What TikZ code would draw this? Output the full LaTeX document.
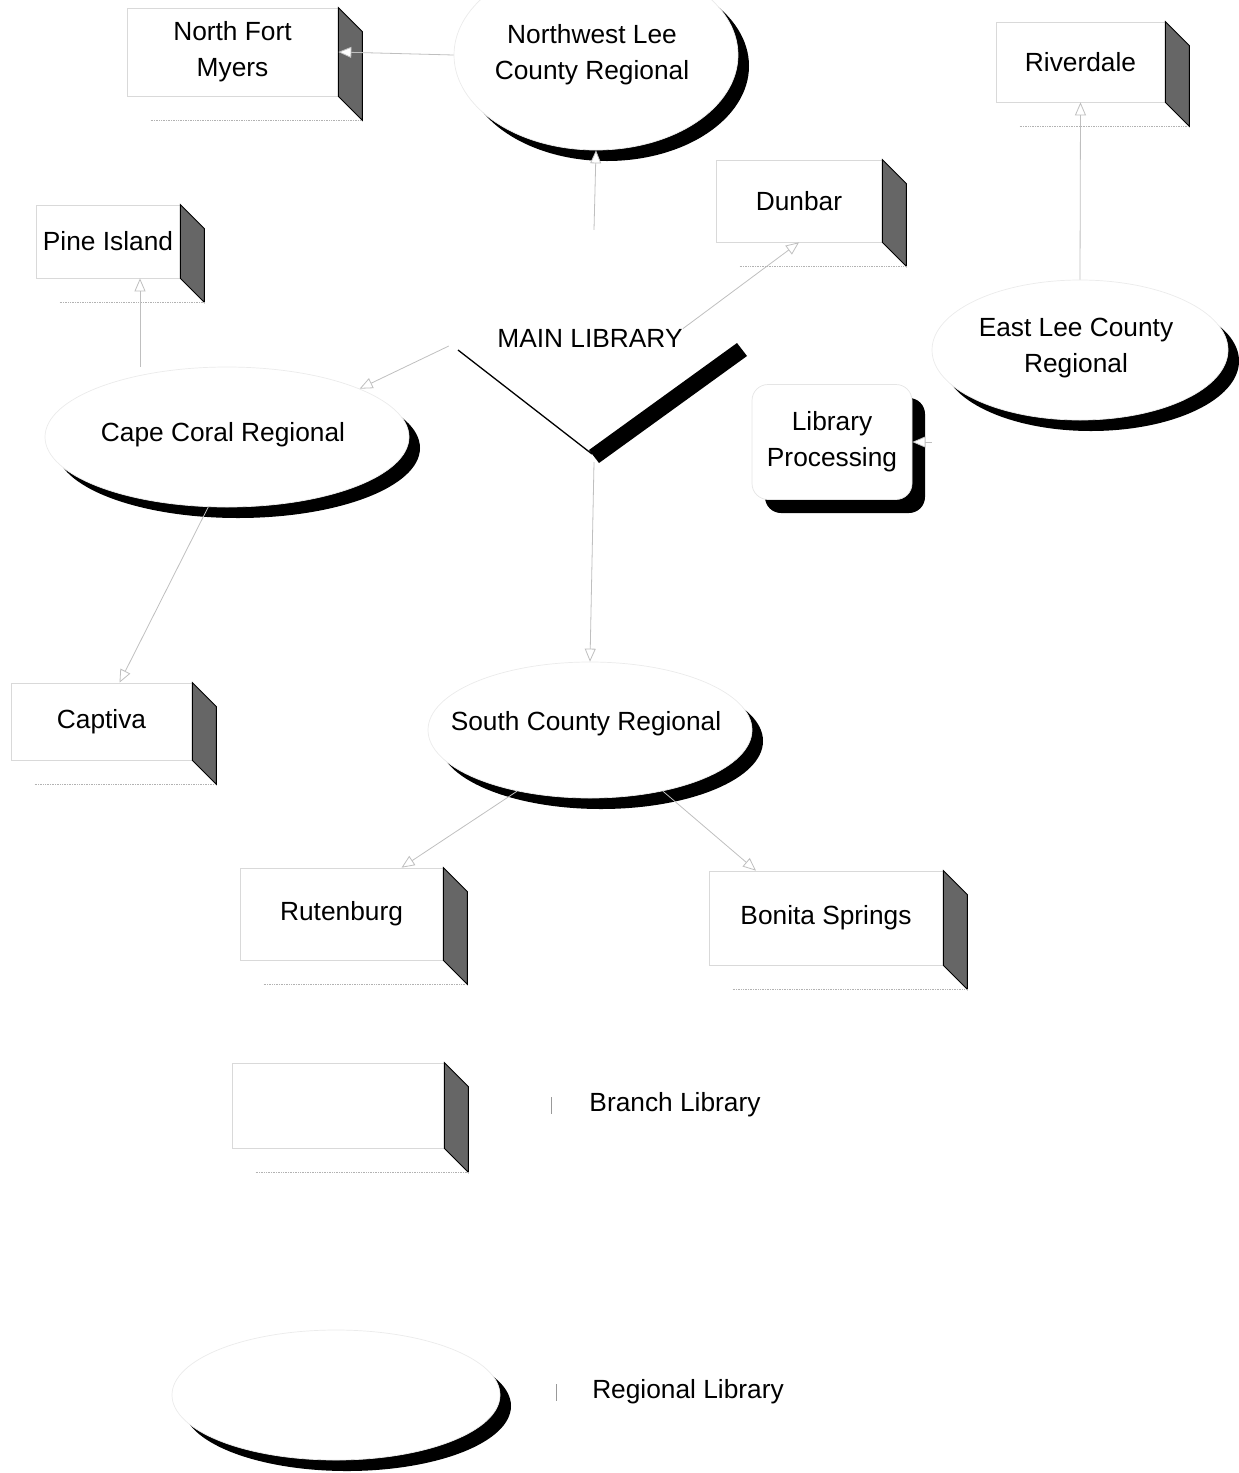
\documentclass[tikz,border=0pt]{standalone}
\usepackage{fontspec}
\setmainfont{Liberation Sans}
\usetikzlibrary{arrows.meta,calc,shapes.geometric}
\tikzset{
  lbl/.style={font=\fontsize{26.3}{36}\selectfont, align=center, inner sep=0pt},
  brfront/.style={draw=black!15, line width=0.7pt, fill=white, lbl},
  brside/.style={fill=black!60, draw=black, line width=0.8pt},
  brback/.style={draw=black!30, line width=0.7pt, densely dotted},
  regfront/.style={ellipse, draw=black!8, line width=0.7pt, fill=white, inner sep=0pt},
  regshadow/.style={fill=black},
  conn/.style={draw=black!25, line width=0.8pt, -{Triangle[width=11pt,length=13pt,fill=white]}},
  tick/.style={draw=black!40, line width=0.8pt},
}
\newcommand\brbox[6]{%
  \node[brfront, minimum width={(#4-#2)*1pt}, minimum height={(#5-#3)*1pt}] (#1) at ({(#2+#4)/2},{(#3+#5)/2}) {#6};
  \path[brside] (#1.north east) -- ++(24,24) -- ([shift={(24,24)}]#1.south east) -- (#1.south east) -- cycle;
  \path[brback] ([shift={(24,24)}]#1.south west) -- ([shift={(24,24)}]#1.south east);
}
\newcommand\regnode[7]{%
  \fill[regshadow] ({#2+11},{#3+11}) ellipse [x radius=#4pt, y radius=#5pt];
  \node[regfront, minimum width={2*#4*1pt}, minimum height={2*#5*1pt}] (#1) at (#2,#3) {};
  \node[lbl] (#1-t) at ([shift={(-4,#7)}]#1.center) {#6};
}
\begin{document}
\begin{tikzpicture}[x=1pt,y=-1pt]
\useasboundingbox (0,0) rectangle (1239,1473);
\clip (0,0) rectangle (1239,1473);

% branch libraries
\brbox{nfm}{127}{8}{338}{96}{North Fort\\Myers}
\brbox{riverdale}{996}{22}{1165}{102}{Riverdale}
\brbox{dunbar}{716}{160}{882}{242}{Dunbar}
\brbox{pine}{36}{205}{180}{278}{Pine Island}
\brbox{captiva}{11}{683}{192}{760}{Captiva}
\brbox{rut}{240}{868}{443}{960}{Rutenburg}
\brbox{bon}{709}{871}{943}{965}{Bonita Springs}

% regional libraries
\regnode{nwlee}{596}{55}{142}{95}{Northwest Lee\\County Regional}{0}
\regnode{eastlee}{1080}{350}{148}{70}{East Lee County\\Regional}{-2}
\regnode{capecoral}{227}{437}{182}{70}{Cape Coral Regional}{-2}
\regnode{scr}{590}{730}{162}{68}{South County Regional}{-6}

% library processing
\fill[black, rounded corners=16pt] (765,398) rectangle (925,513);
\node[draw=black!10, line width=0.7pt, fill=white, rounded corners=16pt, minimum width=160pt, minimum height=115pt, lbl] (libproc) at (832,442) {Library\\Processing};

% main library
\node[lbl] (mainlbl) at (590,338) {MAIN LIBRARY};
\node[minimum width=290pt, minimum height=232pt, inner sep=0pt] (main) at (594,346) {};
\draw[line width=1.3pt] (458,350) -- (592,454);
\fill (589,450) -- (737,343) -- (747,356) -- (599,463) -- cycle;

% connectors
\draw[conn] (main.north) -- (nwlee.south);
\draw[conn] (main.south) -- (scr.north);
\draw[conn] (nwlee.west) -- (nfm.east);
\draw[conn] (mainlbl.north east) -- (dunbar.south);
\draw[conn] (eastlee.north) -- (riverdale.south);
\draw[conn] (eastlee.west |- libproc.east) -- (libproc.east);
\draw[conn] (main.west) -- (capecoral.20);
\draw[conn] ([xshift=32pt]pine.south |- capecoral.north) -- ([xshift=32pt]pine.south);
\draw[conn] (capecoral.255) -- ([xshift=18pt]captiva.north);
\draw[conn] (scr.220) -- ([xshift=60pt]rut.north);
\draw[conn] (scr.320) -- ([xshift=-70pt]bon.north);

% legend
\brbox{legbr}{232}{1063}{444}{1148}{}
\draw[tick] (551,1097) -- (551,1114);
\node[lbl] (legbrt) at (675,1105) {Branch Library};
\regnode{legreg}{336}{1395}{164}{65}{}{0}
\draw[tick] (556,1384) -- (556,1401);
\node[lbl] (legregt) at (688,1392) {Regional Library};
\end{tikzpicture}
\end{document}
